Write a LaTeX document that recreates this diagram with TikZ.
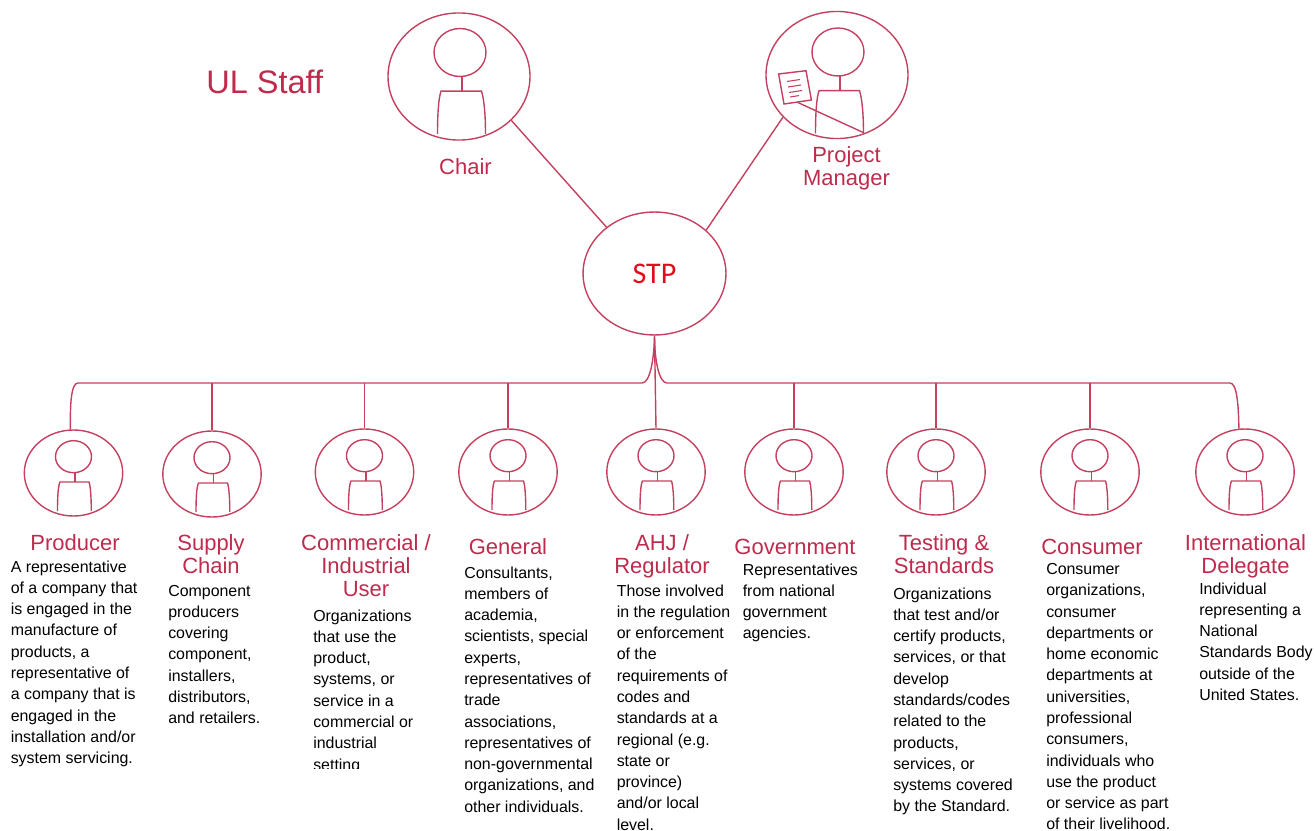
\documentclass[tikz,border=0pt]{standalone}
\usepackage{fontspec}
\setmainfont{Liberation Sans}
\newfontfamily\carl{Carlito}
\usetikzlibrary{shapes.geometric}
\definecolor{ulline}{HTML}{C4405F}
\definecolor{ultext}{HTML}{BE2B4C}
\definecolor{ulred}{HTML}{E00B1C}
\newcommand{\bodyfnt}{\fontsize{11.95pt}{15.95pt}\selectfont}
\newcommand{\headfnt}{\fontsize{16.5pt}{17.25pt}\selectfont}
\tikzset{
  x=0.75pt,y=-0.75pt,
  ln/.style={draw=ulline,line width=1.05pt},
  bigring/.style={ellipse,ln,inner sep=0,minimum width=106.5pt,minimum height=95.3pt},
  stpring/.style={ellipse,ln,inner sep=0,minimum width=107.2pt,minimum height=92.2pt,text=ulred,font=\carl\fontsize{22.5pt}{24pt}\selectfont},
  smallring/.style={ellipse,ln,inner sep=0,minimum width=73.8pt,minimum height=64.5pt},
  headlbl/.style={anchor=center,align=center,inner sep=0,text=ultext,font=\headfnt},
  bodytxt/.style={anchor=north west,align=left,inner sep=0,text=black,font=\bodyfnt},
  smallperson/.pic={
    \draw[ln] (0,-16.3) ellipse [x radius=18,y radius=16];
    \draw[ln] (1.5,-0.3) -- (1.5,9);
    \draw[ln] (-16,38) .. controls (-16,25) and (-15.5,13) .. (-13.5,9) -- (15.5,9) .. controls (17,13) and (17.8,25) .. (17.8,38);
  },
  bigperson/.pic={
    \draw[ln] (0,-24) ellipse [x radius=26,y radius=24];
    \draw[ln] (2,0) -- (2,14.7);
    \draw[ln] (-22.5,57.5) .. controls (-22.5,38) and (-21.5,22) .. (-19,14.7) -- (21.5,14.7) .. controls (24,22) and (25.5,38) .. (25.5,57.5);
  }
}
\begin{document}
\begin{tikzpicture}
\useasboundingbox (0,0) rectangle (1315,831);
% top
\node[bigring] (chair) at (459,76.5) {};
\node[bigring] (pm) at (837,75) {};
\node[stpring] (stp) at (654.5,273.5) {STP};
\pic at (460,76.5) {bigperson};
\pic at (838,76) {bigperson};
\draw[ln,fill=white] (778.6,74) -- (806,70.7) -- (811.4,100) -- (784,104) -- cycle;
\draw[ln,line width=.8pt] (787,81.5) -- (800,79.5) (788,87) -- (801,85) (789,92.5) -- (802,90.5) (790,97) -- (799,95.6);
\draw[ln] (797.6,102.4) -- (863,132.4);
\node[anchor=west,inner sep=0,text=ultext,font=\fontsize{24.4pt}{26pt}\selectfont] (staff) at (206,82) {UL Staff};
\node[headlbl] (chairl) at (465.5,167) {Chair};
\node[headlbl] (pml) at (846.5,168.5) {Project\\Manager};
\draw[ln] (chair.-40.5) -- (stp.136);
\draw[ln] (pm.218.5) -- (stp.40.8);
% rings
\node[smallring] (r1) at (73.5,473) {}; \pic at (73.5,473) {smallperson};
\node[smallring] (r2) at (212,474) {}; \pic at (212,474) {smallperson};
\node[smallring] (r3) at (364.5,472) {}; \pic at (364.5,472) {smallperson};
\node[smallring] (r4) at (508,472) {}; \pic at (508,472) {smallperson};
\node[smallring] (r5) at (656,472) {}; \pic at (656,472) {smallperson};
\node[smallring] (r6) at (794,472) {}; \pic at (794,472) {smallperson};
\node[smallring] (r7) at (936,472) {}; \pic at (936,472) {smallperson};
\node[smallring] (r8) at (1090,472) {}; \pic at (1090,472) {smallperson};
\node[smallring] (r9) at (1245,472) {}; \pic at (1245,472) {smallperson};
% bus
\coordinate (busl) at (78,383);
\coordinate (busr) at (1230,383);
\draw[ln] (busl) -- (642,383) .. controls (650,383) and (654,360) .. (stp.south) .. controls (654.5,360) and (659,383) .. (667,383) -- (busr);
\draw[ln] (r1.94) .. controls (70,405) and (71,383) .. (busl);
\draw[ln] (r9.98) .. controls (1238.5,405) and (1237,383) .. (busr);
\draw[ln] (stp.south) -- (r5.north);
\draw[ln] (r2.north) -- (r2.north|-busl);
\draw[ln] (r3.north) -- (r3.north|-busl);
\draw[ln] (r4.north) -- (r4.north|-busl);
\draw[ln] (r6.north) -- (r6.north|-busl);
\draw[ln] (r7.north) -- (r7.north|-busl);
\draw[ln] (r8.north) -- (r8.north|-busl);
% heads
\node[headlbl] (h1) at (75,543) {Producer};
\node[headlbl] (h2) at (211,554.5) {Supply\\Chain};
\node[headlbl] (h3) at (366,566) {Commercial /\\Industrial\\User};
\node[headlbl] (h4) at (508,547) {General};
\node[headlbl] (h5) at (662,556.5) {AHJ /\\Regulator};
\node[headlbl] (h6) at (795,547) {Government};
\node[headlbl] (h7) at (944,554.5) {Testing \&\\Standards};
\node[headlbl] (h8) at (1092,547) {Consumer};
\node[headlbl] (h9) at (1245.5,556.5) {International\\Delegate};
% body
\node[bodytxt] (b1) at (10.5,557) {\strut A representative\\of a company that\\is engaged in the\\manufacture of\\products, a\\representative of\\a company that is\\engaged in the\\installation and/or\\system servicing.};
\node[bodytxt] (b2) at (168,581) {\strut Component\\producers\\covering\\component,\\installers,\\distributors,\\and retailers.};
\node[bodytxt] (b3) at (313,606) {\strut Organizations\\that use the\\product,\\systems, or\\service in a\\commercial or\\industrial\\setting};
\fill[white] (300,769) rectangle (440,790);
\node[bodytxt] (b4) at (464,563) {\strut Consultants,\\members of\\academia,\\scientists, special\\experts,\\representatives of\\trade\\associations,\\representatives of\\non-governmental\\organizations, and\\other individuals.};
\node[bodytxt] (b5) at (616.5,581) {\strut Those involved\\in the regulation\\or enforcement\\of the\\requirements of\\codes and\\standards at a\\regional (e.g.\\state or\\province)\\and/or local\\level.};
\node[bodytxt] (b6) at (742.5,560) {\strut Representatives\\from national\\government\\agencies.};
\node[bodytxt] (b7) at (893,584) {\strut Organizations\\that test and/or\\certify products,\\services, or that\\develop\\standards/codes\\related to the\\products,\\services, or\\systems covered\\by the Standard.};
\node[bodytxt] (b8) at (1046,559.5) {\strut Consumer\\organizations,\\consumer\\departments or\\home economic\\departments at\\universities,\\professional\\consumers,\\individuals who\\use the product\\or service as part\\of their livelihood.};
\node[bodytxt] (b9) at (1199,579) {\strut Individual\\representing a\\National\\Standards Body\\outside of the\\United States.};
\end{tikzpicture}
\end{document}
